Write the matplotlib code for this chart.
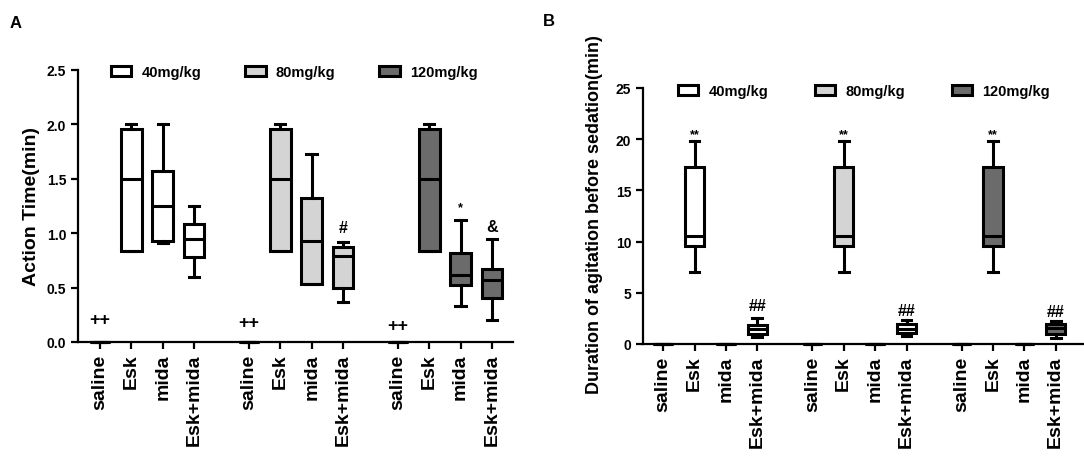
import numpy as np
import matplotlib
matplotlib.use("Agg")
import matplotlib.pyplot as plt
from matplotlib.patches import Patch

plt.rcParams['font.family'] = ['Liberation Sans', 'DejaVu Sans']
plt.rcParams['font.weight'] = 'bold'

groups = ['saline', 'Esk', 'mida', 'Esk+mida']
doses = ['40mg/kg', '80mg/kg', '120mg/kg']
dose_colors = ['#ffffff', '#d4d4d4', '#6b6b6b']

# five-number summaries: whisker low, q1, median, q3, whisker high
# panel A: action time (min)
a_40 = [[0, 0, 0, 0, 0], [0.84, 0.84, 1.50, 1.96, 2.00],
        [0.91, 0.93, 1.25, 1.57, 2.00], [0.60, 0.78, 0.95, 1.08, 1.25]]
a_80 = [[0, 0, 0, 0, 0], [0.84, 0.84, 1.50, 1.96, 2.00],
        [0.53, 0.53, 0.93, 1.32, 1.73], [0.37, 0.50, 0.79, 0.87, 0.92]]
a_120 = [[0, 0, 0, 0, 0], [0.84, 0.84, 1.50, 1.96, 2.00],
         [0.33, 0.52, 0.62, 0.82, 1.12], [0.20, 0.40, 0.57, 0.67, 0.95]]

# panel B: duration of agitation before sedation (min)
b_40 = [[0, 0, 0, 0, 0], [7.0, 9.6, 10.5, 17.3, 19.8],
        [0, 0, 0, 0, 0], [0.7, 0.97, 1.45, 1.85, 2.5]]
b_80 = [[0, 0, 0, 0, 0], [7.0, 9.6, 10.5, 17.3, 19.8],
        [0, 0, 0, 0, 0], [0.8, 1.07, 1.46, 1.95, 2.3]]
b_120 = [[0, 0, 0, 0, 0], [7.0, 9.6, 10.5, 17.3, 19.8],
         [0, 0, 0, 0, 0], [0.55, 1.0, 1.55, 2.0, 2.2]]

# significance marks: (dose index, group index, label, y)
a_marks = [(0, 0, '++', 0.21), (1, 0, '++', 0.18), (2, 0, '++', 0.15),
           (1, 3, '#', 1.05), (2, 2, '*', 1.24), (2, 3, '&', 1.06)]
b_marks = [(0, 1, '**', 20.5), (1, 1, '**', 20.5), (2, 1, '**', 20.5),
           (0, 3, '##', 3.8), (1, 3, '##', 3.3), (2, 3, '##', 3.2)]

group_start = [0, 4.75, 9.5]


def pos(d, g):
    return group_start[d] + g


def draw_panel(ax, data, marks, width, fills):
    lw = 2.2
    for d, summ in enumerate(data):
        stats = []
        for g, s in enumerate(summ):
            stats.append(dict(whislo=s[0], q1=s[1], med=s[2], q3=s[3], whishi=s[4], label=groups[g]))
        bp = ax.bxp(stats, positions=[pos(d, g) for g in range(4)], widths=width,
                    patch_artist=True, showfliers=False, capwidths=width * 0.5,
                    boxprops=dict(linewidth=lw, edgecolor='black'),
                    whiskerprops=dict(linewidth=lw, color='black'),
                    capprops=dict(linewidth=lw, color='black'),
                    medianprops=dict(linewidth=lw, color='black'))
        for g, b in enumerate(bp['boxes']):
            b.set_facecolor(fills[d][g])
        for key in ['boxes', 'medians', 'whiskers', 'caps']:
            for art in bp[key]:
                art.set_clip_on(False)
                art.set_zorder(3)
    for d, g, lab, y in marks:
        fs = 9 if '*' in lab else 11.5
        if lab == '++':
            fs = 13
        ax.text(pos(d, g), y, lab, ha='center', va='center', fontsize=fs, fontweight='bold')
    ticks = [pos(d, g) for d in range(3) for g in range(4)]
    ax.set_xticks(ticks)
    ax.set_xticklabels(groups * 3, rotation=90, fontsize=14, fontweight='bold')
    for s in ['top', 'right']:
        ax.spines[s].set_visible(False)
    for s in ['left', 'bottom']:
        ax.spines[s].set_linewidth(1.6)
    ax.tick_params(axis='both', width=1.6, length=5)
    ax.tick_params(axis='y', labelsize=10)
    for t in ax.get_yticklabels():
        t.set_fontweight('bold')


fig = plt.figure(figsize=(10.84, 4.64), dpi=100)

ax1 = fig.add_axes([78 / 1084, 1 - 343 / 464, 435 / 1084, 272 / 464])
fills_a = [[c] * 4 for c in dose_colors]
draw_panel(ax1, [a_40, a_80, a_120], a_marks, 0.66, fills_a)
ax1.set_xlim(-0.7, 13.17)
ax1.set_ylim(0, 2.5)
ax1.set_yticks([0, 0.5, 1.0, 1.5, 2.0, 2.5])
ax1.set_yticklabels(['0.0', '0.5', '1.0', '1.5', '2.0', '2.5'], fontweight='bold')
ax1.set_ylabel('Action Time(min)', fontsize=14, fontweight='bold')
ax1.yaxis.set_label_coords(-0.087, 0.5)

ax2 = fig.add_axes([643 / 1084, 1 - 345 / 464, 441 / 1084, 256 / 464])
fills_b = [[c] * 4 for c in dose_colors]
fills_b[1][3] = '#ffffff'
draw_panel(ax2, [b_40, b_80, b_120], b_marks, 0.62, fills_b)
ax2.set_xlim(-0.64, 13.4)
ax2.set_ylim(0, 25)
ax2.set_yticks([0, 5, 10, 15, 20, 25])
ax2.set_yticklabels(['0', '5', '10', '15', '20', '25'], fontweight='bold')
ax2.set_ylabel('Duration of agitation before sedation(min)', fontsize=13, fontweight='bold')
ax2.yaxis.set_label_coords(-0.09, 0.51)

for ax, x0, y0, cs in [(ax1, 0.076, 0.993, 3.0), (ax2, 0.079, 0.988, 3.2)]:
    handles = [Patch(facecolor=c, edgecolor='black', linewidth=2.2) for c in dose_colors]
    ax.legend(handles, doses, ncol=3, loc='center left', bbox_to_anchor=(x0, y0),
              frameon=False, borderpad=0, borderaxespad=0, handlelength=1.4,
              handleheight=0.7, handletextpad=0.7, columnspacing=cs,
              prop=dict(size=10.5, weight='bold'))

fig.text(10 / 1084, 1 - 23 / 464, 'A', fontsize=12, fontweight='bold', va='center')
fig.text(543 / 1084, 1 - 22 / 464, 'B', fontsize=12, fontweight='bold', va='center')

fig.savefig('out.png', dpi=100)
